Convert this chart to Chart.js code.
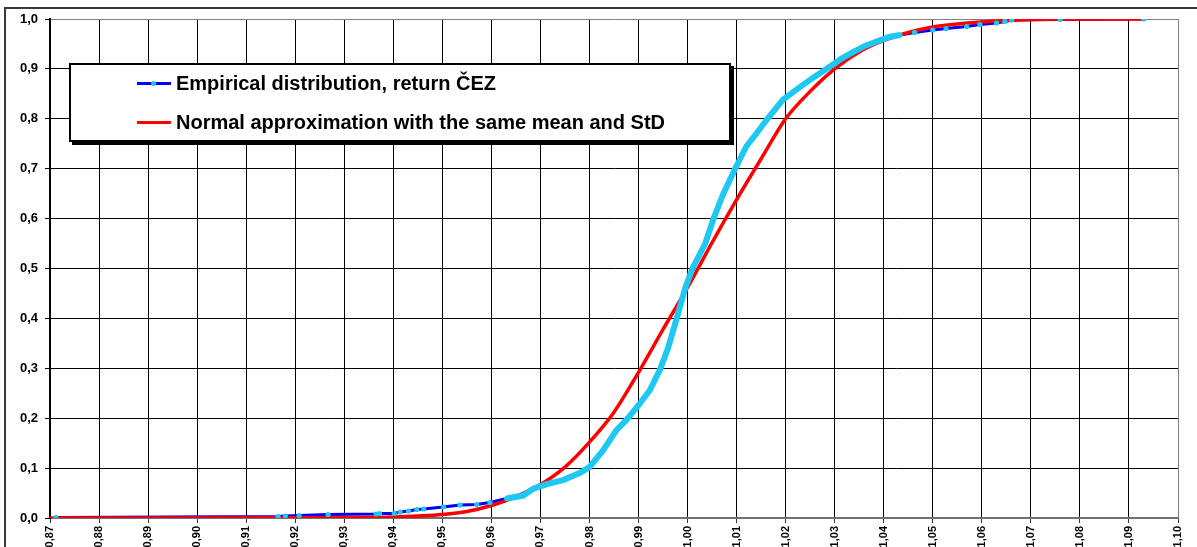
<!DOCTYPE html>
<html><head><meta charset="utf-8">
<script src="https://cdn.jsdelivr.net/npm/chart.js@4.4.1/dist/chart.umd.min.js"></script>
<style>
html,body{margin:0;padding:0;background:#fff;overflow:hidden;width:1197px;height:547px;}
#wrap{position:relative;width:1197px;height:547px;overflow:hidden;}
#frame{position:absolute;left:4px;top:7px;width:1400px;height:800px;border-left:2px solid #3a3a3a;border-top:2px solid #3a3a3a;}
canvas{position:absolute;left:0;top:0;}
#legend{position:absolute;left:69px;top:63px;width:658px;height:75px;border:2px solid #000;background:#fff;box-shadow:3px 3px 0 #000;font:bold 20px "Liberation Sans",Arial,sans-serif;color:#000;}
.item{position:absolute;left:66px;height:24px;display:flex;align-items:center;white-space:nowrap;}
.swatch{position:relative;width:34px;height:3px;margin-right:5px;flex:none;}
.dot{position:absolute;left:14px;top:-1px;width:5px;height:5px;border-radius:50%;}
</style></head>
<body>
<div id="wrap">
<div id="frame"></div>
<canvas id="c" width="1197" height="547"></canvas>
<div id="legend"></div>
</div>
<script>
// ---- data ----
const xTicks = [0.87,0.88,0.89,0.90,0.91,0.92,0.93,0.94,0.95,0.96,0.97,0.98,0.99,1.00,1.01,1.02,1.03,1.04,1.05,1.06,1.07,1.08,1.09,1.10];
const yTicks = [0,0.1,0.2,0.3,0.4,0.5,0.6,0.7,0.8,0.9,1.0];

const seriesLabels = ['Empirical distribution, return ČEZ', 'Normal approximation with the same mean and StD'];

// Empirical distribution of return ČEZ (return, cumulative share)
const empX = [0.8712,0.9165,0.9180,0.9208,0.9267,0.9365,0.9372,0.9402,0.9414,0.9431,0.9448,0.9462,0.9502,0.9536,0.9570,0.9597,0.9631,0.9665,0.9686,0.9713,0.9746,0.9780,0.9800,0.9828,0.9855,0.9875,0.9900,0.9923,0.9944,0.9960,0.9975,0.9985,0.9996,1.0010,1.0036,1.0053,1.0073,1.0097,1.0120,1.0140,1.0163,1.0194,1.0231,1.0260,1.0289,1.0313,1.0340,1.0364,1.0411,1.0433,1.0463,1.0500,1.0527,1.0569,1.0596,1.0630,1.0647,1.0661,1.0760,1.0930];
const empY = [0.001,0.003,0.004,0.005,0.007,0.008,0.009,0.009,0.012,0.014,0.017,0.018,0.022,0.026,0.027,0.031,0.039,0.045,0.059,0.068,0.076,0.090,0.102,0.136,0.176,0.196,0.226,0.256,0.298,0.340,0.390,0.425,0.463,0.500,0.550,0.600,0.650,0.700,0.745,0.770,0.800,0.838,0.865,0.885,0.904,0.920,0.935,0.947,0.964,0.968,0.973,0.978,0.981,0.985,0.989,0.992,0.995,0.998,0.999,1.000];

// Normal approximation with the same mean and StD
const normX = [0.87,0.90,0.92,0.93,0.94,0.945,0.95,0.955,0.96,0.965,0.97,0.975,0.98,0.985,0.99,0.995,1.00,1.005,1.01,1.015,1.02,1.025,1.03,1.035,1.04,1.045,1.05,1.055,1.06,1.065,1.07,1.08,1.093];
const normY = [0.000,0.000,0.0005,0.001,0.002,0.004,0.007,0.013,0.025,0.043,0.067,0.102,0.152,0.212,0.292,0.378,0.462,0.552,0.638,0.720,0.800,0.855,0.900,0.934,0.957,0.973,0.984,0.990,0.994,0.997,0.999,1.000,1.000];

// ---- styling ----
const BLUE = '#0000ff', RED = '#ff0000', CYAN = '#1ec8f2';
const toXY = (xs, ys) => xs.map((x, i) => ({x: x, y: ys[i]}));
const empData = toXY(empX, empY);
const normData = toXY(normX, normY);

const tickFontX = {family: '"Liberation Sans", Arial, sans-serif', size: 11, weight: 'bold'};
const tickFontY = {family: '"Liberation Sans", Arial, sans-serif', size: 13, weight: 'bold'};

const chart = new Chart(document.getElementById('c'), {
  type: 'line',
  data: {
    datasets: [
      {label: seriesLabels[0], data: empData, borderColor: BLUE, borderWidth: 3, pointRadius: 0, tension: 0, order: 3},
      {label: seriesLabels[1], data: normData, borderColor: RED, borderWidth: 3.5, pointRadius: 0, cubicInterpolationMode: 'monotone', order: 2},
      {label: '_markers', data: empData, borderColor: 'rgba(0,0,0,0)', borderWidth: 6, tension: 0,
       segment: {
         borderColor: c => (c.p0.parsed.x >= 0.962 && c.p1.parsed.x <= 1.046) ? CYAN : 'rgba(0,0,0,0)'
       },
       pointRadius: 2.6, pointBackgroundColor: CYAN, pointBorderWidth: 0, order: 1}
    ]
  },
  options: {
    responsive: false,
    animation: false,
    devicePixelRatio: 1,
    layout: {padding: {left: 0, top: 19, right: 19, bottom: 0}},
    plugins: {legend: {display: false}, tooltip: {enabled: false}, title: {display: false}},
    scales: {
      x: {
        type: 'linear', min: 0.87, max: 1.10,
        afterBuildTicks: s => { s.ticks = xTicks.map(v => ({value: v})); },
        afterFit: s => { s.height = 29; },
        ticks: {callback: v => v.toFixed(2).replace('.', ','), minRotation: 90, maxRotation: 90, autoSkip: false,
                font: tickFontX, color: '#000', padding: 3},
        grid: {color: c => (c.tick && Math.abs(c.tick.value - 1.10) < 1e-9) ? '#808080' : '#000', lineWidth: 1, tickLength: 5, tickColor: '#333'},
        border: {color: '#707070', width: 2}
      },
      y: {
        min: 0, max: 1,
        afterBuildTicks: s => { s.ticks = yTicks.map(v => ({value: v})); },
        afterFit: s => { s.width = 50; },
        ticks: {callback: v => v.toFixed(1).replace('.', ','), font: tickFontY, color: '#000', padding: 7},
        grid: {color: c => (c.tick && Math.abs(c.tick.value - 1.0) < 1e-9) ? '#808080' : '#000', lineWidth: 1, tickLength: 5, tickColor: '#000'},
        border: {color: '#000', width: 2}
      }
    }
  }
});

// HTML legend built from the chart's datasets
const leg = document.getElementById('legend');
chart.data.datasets.slice(0, 2).forEach((ds, i) => {
  const item = document.createElement('div');
  item.className = 'item';
  item.style.top = (i === 0 ? 6 : 45) + 'px';
  const sw = document.createElement('span');
  sw.className = 'swatch';
  sw.style.background = ds.borderColor;
  if (i === 0) { const d = document.createElement('span'); d.className = 'dot'; d.style.background = CYAN; sw.appendChild(d); }
  const tx = document.createElement('span');
  tx.textContent = ds.label;
  item.appendChild(sw); item.appendChild(tx);
  leg.appendChild(item);
});
</script>
</body></html>
